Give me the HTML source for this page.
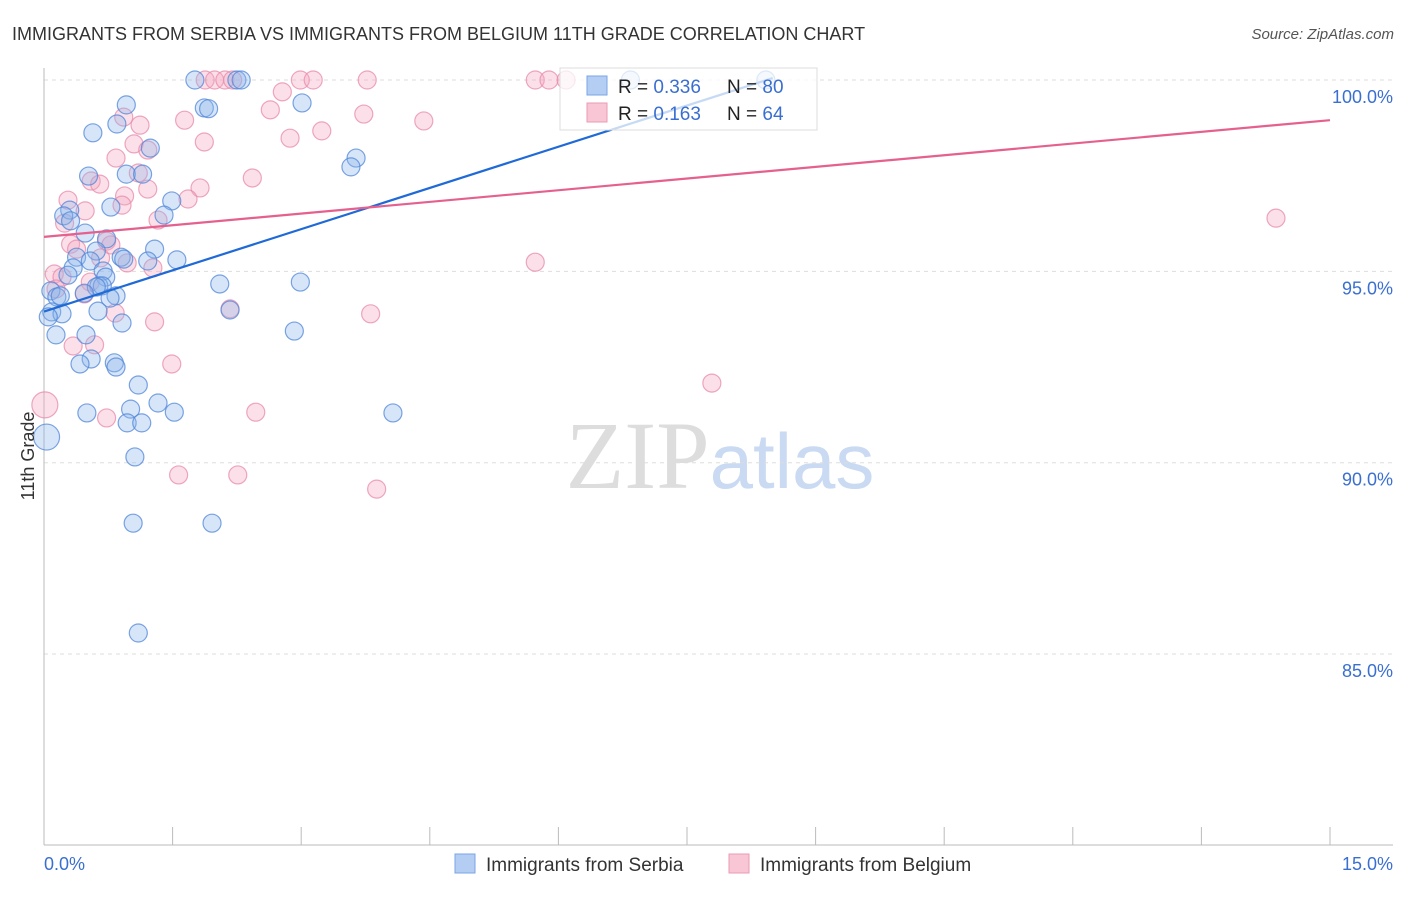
<!DOCTYPE html>
<html><head><meta charset="utf-8"><style>
body{margin:0;background:#fff;font-family:"Liberation Sans",sans-serif}
svg text{font-family:"Liberation Sans",sans-serif}
</style></head><body>
<svg id="chart" width="1406" height="892" viewBox="0 0 1406 892" xmlns="http://www.w3.org/2000/svg">
<text x="12" y="40" font-size="18" fill="#333">IMMIGRANTS FROM SERBIA VS IMMIGRANTS FROM BELGIUM 11TH GRADE CORRELATION CHART</text>
<text x="1394" y="39" font-size="15" fill="#555" font-style="italic" text-anchor="end">Source: ZipAtlas.com</text>
<text x="720" y="488" font-size="96" text-anchor="middle"><tspan fill="#ddd" font-family="Liberation Serif">ZIP</tspan><tspan fill="#c9daf2" font-size="78">atlas</tspan></text>
<g id="grid"></g>
<g id="axes"></g>
<g id="pts"></g>
<g id="lines"></g>
<g>
<rect x="560" y="68" width="257" height="62" fill="#fff" fill-opacity="0.75" stroke="#ddd"/>
<rect x="587" y="76" width="20" height="19" fill="#b4cdf2" stroke="#7aa5e4"/>
<rect x="587" y="103" width="20" height="19" fill="#f8c6d5" stroke="#eb9ab5"/>
<text x="618" y="93" font-size="19" fill="#222">R = <tspan fill="#3a6fd0">0.336</tspan><tspan x="727">N = </tspan><tspan fill="#3a6fd0">80</tspan></text>
<text x="618" y="120" font-size="19" fill="#222">R = <tspan fill="#3a6fd0"> 0.163</tspan><tspan x="727">N = </tspan><tspan fill="#3a6fd0">64</tspan></text>
</g>
<text transform="translate(34,456) rotate(-90)" font-size="18" fill="#333" text-anchor="middle">11th Grade</text>
<text x="44" y="870" font-size="18" fill="#3a6fd0">0.0%</text>
<text x="1393" y="870" font-size="18" fill="#3a6fd0" text-anchor="end">15.0%</text>
<g>
<rect x="455" y="854" width="20" height="19" fill="#b4cdf2" stroke="#7aa5e4"/>
<text x="486" y="871" font-size="19" fill="#333">Immigrants from Serbia</text>
<rect x="729" y="854" width="20" height="19" fill="#f8c6d5" stroke="#eb9ab5"/>
<text x="760" y="871" font-size="19" fill="#333">Immigrants from Belgium</text>
</g>
</svg>
<script>
const yTicks=[100,95,90,85];
const yTickLabels=["100.0%","95.0%","90.0%","85.0%"];
const xTicks=[0,1.5,3,4.5,6,7.5,9,10.5,12,13.5,15];
const serbiaX=[1.76,2.25,2.30,6.84,8.42,0.96,1.87,1.92,3.01,0.57,0.85,1.24,3.64,3.58,0.52,0.96,1.15,1.49,0.78,0.30,0.23,1.40,0.48,0.31,0.73,0.61,1.29,0.38,1.21,1.55,0.90,0.93,0.54,0.34,0.69,0.28,0.72,2.05,2.99,0.64,0.68,0.61,0.47,0.08,0.15,0.19,0.84,0.77,0.09,0.21,0.63,0.91,0.05,0.49,0.14,2.92,0.55,0.42,0.82,0.84,1.10,1.33,0.50,1.01,1.52,4.07,0.97,1.14,0.03,1.06,1.04,1.96,1.10,2.17];
const serbiaY=[100,100,100,100,100,99.35,99.27,99.25,99.40,98.62,98.85,98.22,97.96,97.73,97.49,97.54,97.54,96.84,96.68,96.60,96.45,96.47,96.00,96.32,95.85,95.53,95.58,95.37,95.27,95.30,95.37,95.32,95.27,95.09,95.01,94.90,94.85,94.67,94.72,94.62,94.62,94.59,94.43,94.49,94.33,94.36,94.36,94.30,93.94,93.89,93.96,93.65,93.81,93.34,93.34,93.44,92.71,92.58,92.61,92.50,92.03,91.56,91.30,91.40,91.32,91.30,91.04,91.04,90.67,90.15,88.42,88.42,85.55,93.99];
const belgiumX=[1.88,1.99,2.11,2.20,2.99,3.14,3.77,5.73,5.89,6.09,2.78,2.64,3.73,4.43,1.64,1.12,0.93,1.87,2.87,3.24,1.05,1.21,0.84,1.10,2.43,1.82,0.55,0.65,1.21,0.94,0.91,1.68,0.28,0.48,1.33,0.24,0.73,0.31,0.38,0.78,0.66,0.97,1.27,5.73,0.12,0.21,0.54,0.14,0.47,2.17,0.83,3.81,1.29,0.34,0.59,1.49,7.79,0.01,0.73,2.47,1.57,2.26,3.88,14.37];
const belgiumY=[100,100,100,100,100,100,100,100,100,100,99.69,99.22,99.11,98.93,98.95,98.82,99.03,98.38,98.48,98.67,98.33,98.17,97.96,97.57,97.44,97.18,97.36,97.28,97.15,96.97,96.73,96.89,96.86,96.58,96.34,96.26,95.79,95.71,95.58,95.69,95.35,95.22,95.09,95.24,94.93,94.85,94.72,94.54,94.41,94.02,93.91,93.89,93.68,93.05,93.08,92.58,92.08,91.51,91.17,91.32,89.68,89.68,89.31,96.39];
const serbiaBig=[68];
const belgiumBig=[57];
const serbiaTrend=[[0,93.95],[8.5,100.05]];
const belgiumTrend=[[0,95.9],[15,98.95]];
const NS="http://www.w3.org/2000/svg";
const X=v=>44+v*(1330-44)/15;
const Y=v=>80+(100-v)*38.27;
function mk(tag,attrs,parent){const e=document.createElementNS(NS,tag);for(const k in attrs)e.setAttribute(k,attrs[k]);parent.appendChild(e);return e;}
const grid=document.getElementById('grid'),axes=document.getElementById('axes'),pts=document.getElementById('pts'),lines=document.getElementById('lines');
yTicks.forEach((t,i)=>{
 const l=mk('line',{x1:44,x2:1393,y1:Y(t),y2:Y(t),stroke:'#ddd','stroke-dasharray':'4,4'},grid);
 
 
 const tx=mk('text',{x:1393,y:Y(t)+23,'font-size':18,fill:'#3a6fd0','text-anchor':'end'},axes);
 tx.textContent=yTickLabels[i];
 
 
});
const ya=mk('line',{x1:44,x2:44,y1:68,y2:845,stroke:'#bbb'},axes);


const xa=mk('line',{x1:44,x2:1393,y1:845,y2:845,stroke:'#bbb'},axes);


xTicks.forEach(t=>{
 const l=mk('line',{x1:X(t),x2:X(t),y1:827,y2:845,stroke:'#bbb'},axes);
 
 
});
function series(xs,ys,big,fill,stroke,name){
 xs.forEach((x,i)=>{
  const c=mk('circle',{cx:X(x),cy:Y(ys[i]),r:big.includes(i)?13:9,fill:fill,'fill-opacity':0.35,stroke:stroke,'stroke-opacity':0.75,'stroke-width':1.2},pts);
  
  
 });
}
series(belgiumX,belgiumY,belgiumBig,'#f4a6bf','#e88aab','belgium-point');
series(serbiaX,serbiaY,serbiaBig,'#8db5ec','#4f86d8','serbia-point');
const sl=mk('line',{x1:X(serbiaTrend[0][0]),y1:Y(serbiaTrend[0][1]),x2:X(serbiaTrend[1][0]),y2:Y(serbiaTrend[1][1]),stroke:'#1f6ad6','stroke-width':2.2},lines);


const bl=mk('line',{x1:X(belgiumTrend[0][0]),y1:Y(belgiumTrend[0][1]),x2:X(belgiumTrend[1][0]),y2:Y(belgiumTrend[1][1]),stroke:'#e5608e','stroke-width':2.2},lines);


</script>
</body></html>
